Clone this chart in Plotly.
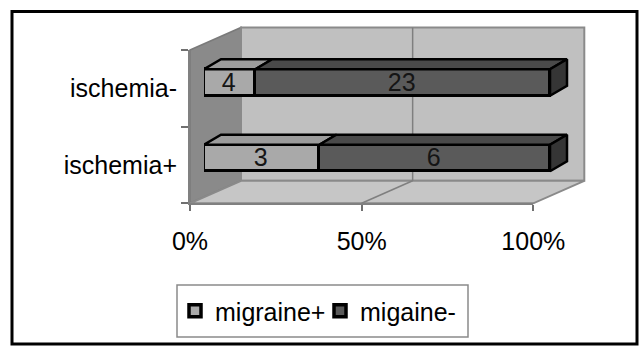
import plotly.graph_objects as go

# ---- data -------------------------------------------------------------
categories = ["ischemia+", "ischemia-"]
migraine_pos = [3, 4]      # "migraine+" counts per category
migraine_neg = [6, 23]     # "migaine-" counts per category
series_names = ["migraine+", "migaine-"]
x_tick_vals = [0, 50, 100]
x_tick_text = ["0%", "50%", "100%"]

# ---- geometry (pixels of a 641 x 346 canvas) ---------------------------
W, H = 641, 346
FONT = "Arial, Liberation Sans, sans-serif"


def px(x):
    return x / W


def py(y):
    return 1 - y / H


# front plane of the 3-D box
FX0, FX1 = 190, 533.3
FY_BOT, FY_TOP = 203.3, 50
WDX, WDY = 51, -22.5            # depth of the box (walls / floor)

# plane of the bars' front faces
BX0, BSCALE = 204, 3.46          # x pixel of 0 %, pixels per percent
BY0, BYSTEP = 158, 75.5          # y pixel of first category, pixels per category
BAR_W = 0.35
BDX, BDY = 17, -10               # depth of the bars
X2_MAX = 110
Y2_LO, Y2_HI = -0.6, 1.6

# legend frame
LG_X0, LG_X1, LG_Y0, LG_Y1 = 177, 468, 285, 337

dx_u = BDX / BSCALE
dy_u = -BDY / BYSTEP

# ---- percentages derived from counts ----------------------------------
ypos = list(range(len(categories)))
totals = [a + b for a, b in zip(migraine_pos, migraine_neg)]
split = [a / t * 100 for a, t in zip(migraine_pos, totals)]

LIGHT, DARK = "#a9a9a9", "#5a5a5a"
LIGHT_TOP, DARK_TOP, DARK_SIDE = "#9c9c9c", "#4a4a4a", "#353535"

fig = go.Figure()

# invisible anchor so the front-plane axes (ticks and labels) are drawn
fig.add_trace(go.Scatter(x=[0, 100], y=[0, len(categories)], mode="markers",
                         marker=dict(opacity=0), showlegend=False, hoverinfo="skip"))


def face(xs, ys, color):
    fig.add_trace(go.Scatter(
        x=xs + xs[:1], y=ys + ys[:1], mode="lines", fill="toself",
        fillcolor=color, line=dict(color="black", width=2.5),
        showlegend=False, hoverinfo="skip", xaxis="x2", yaxis="y2"))


# top and end faces of the stacked bars
for yc, s in zip(ypos, split):
    yt = yc + BAR_W / 2
    yb = yc - BAR_W / 2
    for x0, x1, col in ((0, s, LIGHT_TOP), (s, 100, DARK_TOP)):
        face([x0, x1, x1 + dx_u, x0 + dx_u], [yt, yt, yt + dy_u, yt + dy_u], col)
    face([100, 100 + dx_u, 100 + dx_u, 100],
         [yb, yb + dy_u, yt + dy_u, yt], DARK_SIDE)

# front faces: 100 % stacked horizontal bars
for name, vals, col in ((series_names[0], migraine_pos, LIGHT),
                        (series_names[1], migraine_neg, DARK)):
    fig.add_trace(go.Bar(
        y=ypos, x=vals, orientation="h", name=name, width=BAR_W,
        marker=dict(color=col, line=dict(color="black", width=3.5)),
        text=[str(v) for v in vals], textposition="inside",
        insidetextanchor="middle", constraintext="none", textangle=0,
        textfont=dict(family=FONT, size=25, color="#151515"),
        xaxis="x2", yaxis="y2", hoverinfo="skip"))

# ---- box: side wall, back wall, floor, back gridline --------------------
def path(pts):
    return "M " + " L ".join(f"{px(x):.5f},{py(y):.5f}" for x, y in pts) + " Z"


bx0, bx1 = FX0 + WDX, FX1 + WDX
by_top, by_bot = FY_TOP + WDY, FY_BOT + WDY
shapes = [
    dict(type="path", path=path([(FX0, FY_TOP), (bx0, by_top), (bx0, by_bot), (FX0, FY_BOT)]),
         fillcolor="#8a8a8a", line=dict(color="#7a7a7a", width=1.5)),
    dict(type="path", path=path([(bx0, by_top), (bx1, by_top), (bx1, by_bot), (bx0, by_bot)]),
         fillcolor="#c0c0c0", line=dict(color="#8a8a8a", width=2)),
    dict(type="path", path=path([(FX0, FY_BOT), (FX1, FY_BOT), (bx1, by_bot), (bx0, by_bot)]),
         fillcolor="#c6c6c6", line=dict(color="#8a8a8a", width=2)),
]
for t in x_tick_vals[1:-1]:
    fxa = FX0 + (FX1 - FX0) * t / 100
    bxa = bx0 + (bx1 - bx0) * t / 100
    shapes.append(dict(type="line", x0=px(bxa), x1=px(bxa), y0=py(by_top), y1=py(by_bot),
                       line=dict(color="#7f7f7f", width=1.5)))
    shapes.append(dict(type="line", x0=px(fxa), x1=px(bxa), y0=py(FY_BOT), y1=py(by_bot),
                       line=dict(color="#7f7f7f", width=1.5)))
# legend frame
shapes.append(dict(type="rect", x0=px(LG_X0), x1=px(LG_X1), y0=py(LG_Y1), y1=py(LG_Y0),
                   fillcolor="white", line=dict(color="#8a8a8a", width=1.5)))
for s in shapes:
    s.update(xref="paper", yref="paper", layer="below")

# outer frame
shapes.append(dict(type="rect", xref="paper", yref="paper", layer="above",
                   x0=px(12), x1=px(637), y0=py(344), y1=py(11.5),
                   line=dict(color="black", width=3)))

fig.update_layout(
    width=W, height=H, margin=dict(l=0, r=0, t=0, b=0, autoexpand=False),
    paper_bgcolor="white", plot_bgcolor="rgba(0,0,0,0)",
    font=dict(family=FONT, size=25, color="black"),
    barmode="stack", barnorm="percent", bargap=0,
    shapes=shapes,
    xaxis=dict(domain=[px(FX0), px(FX1)], range=[0, 100], anchor="y", automargin=False,
               tickvals=x_tick_vals, ticktext=x_tick_text,
               ticks="outside", ticklen=6, tickcolor="#707070", tickwidth=1.5,
               showline=True, linecolor="#808080", linewidth=2,
               showgrid=False, zeroline=False, fixedrange=True,
               ticklabelstandoff=9, tickfont=dict(size=25)),
    yaxis=dict(domain=[py(FY_BOT), py(FY_TOP)], range=[0, len(categories)], anchor="x",
               automargin=False,
               tickvals=[i + 0.5 for i in ypos], ticktext=categories, ticks="",
               minor=dict(tickvals=list(range(len(categories) + 1)), ticks="outside",
                          ticklen=7, tickcolor="#707070", tickwidth=1.5),
               showline=True, linecolor="#808080", linewidth=2,
               showgrid=False, zeroline=False, fixedrange=True,
               ticklabelstandoff=6, tickfont=dict(size=25)),
    xaxis2=dict(domain=[px(BX0), px(BX0 + X2_MAX * BSCALE)], range=[0, X2_MAX],
                anchor="y2", visible=False, fixedrange=True, automargin=False),
    yaxis2=dict(domain=[py(BY0 - Y2_LO * BYSTEP), py(BY0 - Y2_HI * BYSTEP)],
                range=[Y2_LO, Y2_HI], anchor="x2", visible=False, fixedrange=True,
                automargin=False),
    legend=dict(orientation="h", x=px(LG_X0 - 2), y=py((LG_Y0 + LG_Y1) / 2),
                xanchor="left", yanchor="middle",
                bgcolor="rgba(0,0,0,0)", borderwidth=0,
                font=dict(size=25), traceorder="normal", itemwidth=30,
                entrywidth=100, entrywidthmode="pixels"),
    showlegend=True,
)

fig.write_html("out.html")
